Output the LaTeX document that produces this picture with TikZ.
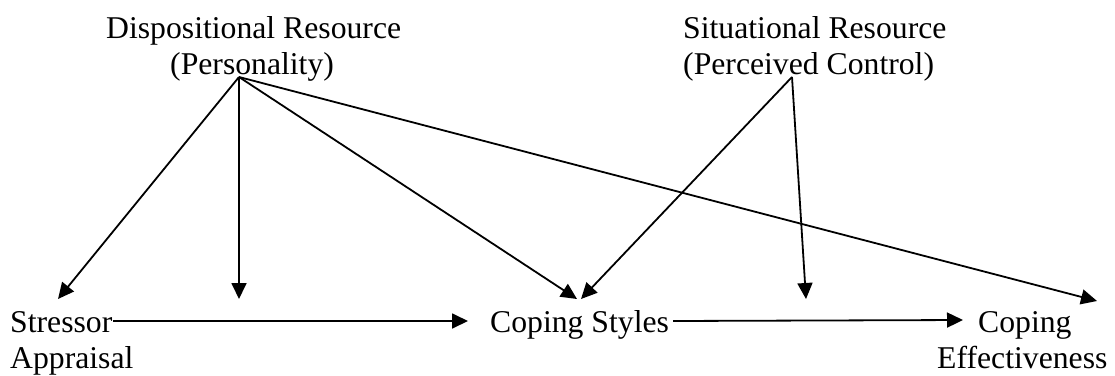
\documentclass[tikz,border=0pt]{standalone}
\usepackage{fontspec}
\setmainfont{Liberation Serif}
\usetikzlibrary{arrows.meta}
\begin{document}
\begin{tikzpicture}[x=1pt,y=-1pt,
  lbl/.style={inner sep=0pt,anchor=base west,font=\fontsize{31.7}{36.5}\selectfont},
  arr/.style={line width=1.8pt,-{Triangle[length=16pt,width=15pt]}}]
\useasboundingbox (0,0) rectangle (1115,375);
% texts
\node[lbl] (disp) at (106,38) {Dispositional Resource};
\node[lbl] (pers) at (170,74) {(Personality)};
\node[lbl] (sit) at (683,38) {Situational Resource};
\node[lbl] (perc) at (683,74) {(Perceived Control)};
\node[lbl] (stress) at (10,332) {Stressor};
\node[lbl] (apprais) at (10,368) {Appraisal};
\node[lbl] (styles) at (490,332) {Coping Styles};
\node[lbl] (coping) at (978,332) {Coping};
\node[lbl] (effect) at (937,368) {Effectiveness};
% sources and targets
\coordinate (dsrc) at (239,77);
\coordinate (ssrc) at (792,77);
\coordinate (tstress) at (58,299);
\coordinate (tmid1) at (239,299);
\coordinate (tstyleA) at (577,299);
\coordinate (tstyleB) at (581,299);
\coordinate (tmid2) at (806,299);
\coordinate (teff) at (1097,301);
\coordinate (h1a) at (113,321);
\coordinate (h1b) at (468,321);
\coordinate (h2a) at (673,321);
\coordinate (h2b) at (963,320);
% arrows
\draw[arr] (dsrc) -- (tstress);
\draw[arr] (dsrc) -- (tmid1);
\draw[arr] (dsrc) -- (tstyleA);
\draw[arr] (dsrc) -- (teff);
\draw[arr] (ssrc) -- (tstyleB);
\draw[arr] (ssrc) -- (tmid2);
\draw[arr] (h1a) -- (h1b);
\draw[arr] (h2a) -- (h2b);
\end{tikzpicture}
\end{document}
